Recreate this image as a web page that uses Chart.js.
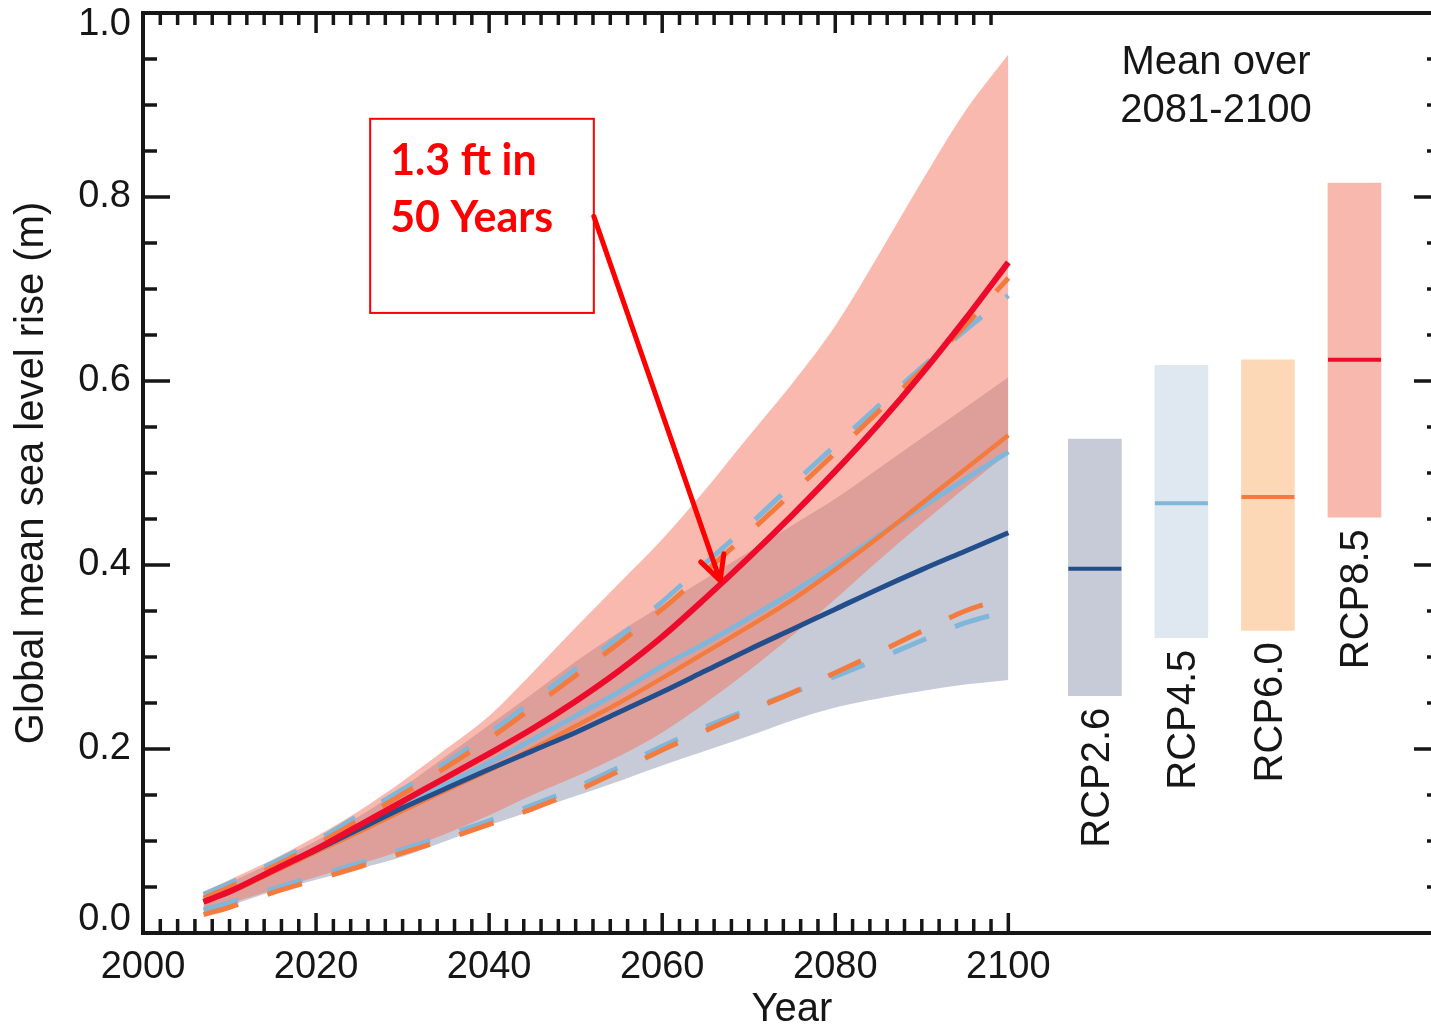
<!DOCTYPE html>
<html>
<head>
<meta charset="utf-8">
<title>Global mean sea level rise</title>
<script src="https://cdn.jsdelivr.net/npm/chart.js@4.4.0/dist/chart.umd.min.js"></script>
<style>
  html, body { margin: 0; padding: 0; background: #fff; overflow: hidden; }
  canvas { display: block; }
</style>
</head>
<body>
<canvas id="slrChart" width="1445" height="1029"></canvas>
<script>
// ---- values ----
const years = [2007, 2010, 2015, 2020, 2025, 2030, 2035, 2040, 2045, 2050,
               2055, 2060, 2065, 2070, 2075, 2080, 2085, 2090, 2095, 2100];

// central projections (solid lines)
const rcp26Mean = [0.034, 0.045, 0.068, 0.090, 0.113, 0.136, 0.157, 0.178, 0.198, 0.218,
                   0.240, 0.262, 0.285, 0.308, 0.330, 0.352, 0.374, 0.395, 0.415, 0.435];
const rcp45Mean = [0.034, 0.045, 0.068, 0.090, 0.115, 0.139, 0.162, 0.185, 0.210, 0.236,
                   0.262, 0.290, 0.315, 0.342, 0.370, 0.400, 0.432, 0.463, 0.493, 0.523];
const rcp60Mean = [0.034, 0.044, 0.066, 0.088, 0.110, 0.133, 0.155, 0.177, 0.200, 0.225,
                   0.250, 0.277, 0.305, 0.333, 0.362, 0.395, 0.430, 0.467, 0.504, 0.541];
const rcp85Mean = [0.034, 0.045, 0.068, 0.091, 0.117, 0.143, 0.169, 0.195, 0.222, 0.252,
                   0.285, 0.322, 0.364, 0.408, 0.454, 0.502, 0.553, 0.608, 0.667, 0.729];

// likely ranges (shaded)
const rcp26Upper = [0.043, 0.055, 0.077, 0.100, 0.127, 0.158, 0.192, 0.226, 0.260, 0.295,
                    0.327, 0.356, 0.385, 0.414, 0.443, 0.472, 0.505, 0.538, 0.571, 0.604];
const rcp26Lower = [0.022, 0.030, 0.045, 0.058, 0.070, 0.083, 0.100, 0.117, 0.133, 0.149,
                    0.165, 0.182, 0.198, 0.214, 0.231, 0.245, 0.255, 0.263, 0.270, 0.275];
const rcp85Upper = [0.045, 0.058, 0.080, 0.105, 0.133, 0.165, 0.200, 0.236, 0.283, 0.332,
                    0.380, 0.428, 0.482, 0.540, 0.597, 0.660, 0.737, 0.817, 0.893, 0.955];
const rcp85Lower = [0.024, 0.032, 0.047, 0.061, 0.075, 0.090, 0.108, 0.128, 0.150, 0.170,
                    0.192, 0.218, 0.250, 0.285, 0.323, 0.363, 0.405, 0.445, 0.484, 0.522];

// likely ranges (dashed)
const rcp45Upper = [0.042, 0.054, 0.076, 0.100, 0.128, 0.156, 0.185, 0.217, 0.252, 0.287,
                    0.322, 0.360, 0.402, 0.443, 0.487, 0.530, 0.573, 0.615, 0.655, 0.693];
const rcp60Upper = [0.038, 0.050, 0.072, 0.096, 0.123, 0.151, 0.180, 0.211, 0.245, 0.280,
                    0.315, 0.352, 0.393, 0.435, 0.478, 0.522, 0.567, 0.612, 0.660, 0.712];
const rcp45Lower = [0.025, 0.033, 0.048, 0.062, 0.076, 0.091, 0.106, 0.122, 0.139, 0.158,
                    0.180, 0.203, 0.224, 0.243, 0.261, 0.279, 0.298, 0.318, 0.337, 0.350];
const rcp60Lower = [0.020, 0.028, 0.044, 0.058, 0.072, 0.087, 0.102, 0.118, 0.135, 0.154,
                    0.176, 0.199, 0.220, 0.241, 0.261, 0.283, 0.305, 0.328, 0.350, 0.365];

// mean over 2081-2100 bars
const rcpNames   = ['RCP2.6', 'RCP4.5', 'RCP6.0', 'RCP8.5'];
const rcpBarX    = [2110, 2120, 2130, 2140];
const rcpBarLow  = [0.258, 0.321, 0.329, 0.452];
const rcpBarHigh = [0.537, 0.617, 0.623, 0.815];
const rcpBarMean = [0.396, 0.467, 0.474, 0.623];

// axes
const xTickLabels = [2000, 2020, 2040, 2060, 2080, 2100];
const yTickLabels = [0.0, 0.2, 0.4, 0.6, 0.8, 1.0];

// ---- styles ----
const ink = '#161616';
const font = '"Liberation Sans", Arial, Helvetica, sans-serif';
const cRed = '#ee0a2a', cNavy = '#224e8c', cSky = '#80b6d9', cOrange = '#f47b3e';
const barColors  = ['#c7cbd8', '#dfe7f0', '#fcd8b6', '#f9b8ad'];
const meanColors = [cNavy, cSky, cOrange, cRed];

const pts = arr => years.map((x, i) => ({ x: x, y: arr[i] }));

function meanLine(arr, color, width) {
  return { data: pts(arr), borderColor: color, borderWidth: width, pointRadius: 0,
           fill: false, cubicInterpolationMode: 'monotone' };
}
function dashLine(arr, color) {
  return { data: pts(arr), borderColor: color, borderWidth: 5, borderDash: [36, 31],
           pointRadius: 0, fill: false, cubicInterpolationMode: 'monotone' };
}
function bandEdge(arr, fillColor) {
  return { data: pts(arr), borderColor: 'rgba(0,0,0,0)', borderWidth: 0, pointRadius: 0,
           fill: fillColor ? '+1' : false, backgroundColor: fillColor || 'rgba(0,0,0,0)',
           cubicInterpolationMode: 'monotone' };
}

// inward ticks, frame and all text
const framePlugin = {
  id: 'frame',
  afterDraw(chart) {
    const ctx = chart.ctx, a = chart.chartArea;
    const x = chart.scales.x, y = chart.scales.y;
    ctx.save();

    ctx.strokeStyle = ink;
    ctx.lineWidth = 4;
    ctx.beginPath();
    ctx.rect(a.left, a.top, a.right - a.left, a.bottom - a.top);
    ctx.stroke();

    ctx.lineWidth = 3.5;
    ctx.beginPath();
    for (let yr = 2000; yr <= 2100; yr += 2) {
      const px = x.getPixelForValue(yr);
      const major = xTickLabels.includes(yr);
      ctx.moveTo(px, a.bottom); ctx.lineTo(px, a.bottom - (major ? 20 : 14));
      if (yr < 2100) { ctx.moveTo(px, a.top); ctx.lineTo(px, a.top + (major ? 20 : 12)); }
    }
    for (let k = 1; k < 20; k++) {
      const py = y.getPixelForValue(k * 0.05);
      const len = k % 4 === 0 ? 27 : 14;
      ctx.moveTo(a.left, py);  ctx.lineTo(a.left + len, py);
      ctx.moveTo(a.right, py); ctx.lineTo(a.right - len, py);
    }
    ctx.stroke();

    ctx.fillStyle = ink;
    ctx.font = '38px ' + font;
    ctx.textBaseline = 'middle';
    ctx.textAlign = 'center';
    xTickLabels.forEach(v => ctx.fillText(String(v), x.getPixelForValue(v), a.bottom + 35));

    ctx.textAlign = 'right';
    yTickLabels.forEach(v => {
      let py = y.getPixelForValue(v);
      py = Math.min(Math.max(py, a.top + 12), a.bottom - 13);
      ctx.fillText(v.toFixed(1), a.left - 12, py);
    });

    ctx.font = '40px ' + font;
    ctx.textAlign = 'center';
    ctx.fillText('Year', (a.left + a.right) / 2, a.bottom + 77);

    ctx.save();
    ctx.translate(a.left - 111, (a.top + a.bottom) / 2);
    ctx.rotate(-Math.PI / 2);
    ctx.fillText('Global mean sea level rise (m)', 0, 0);
    ctx.restore();

    ctx.fillText('Mean over', x.getPixelForValue(2124), y.getPixelForValue(0.946));
    ctx.fillText('2081-2100', x.getPixelForValue(2124), y.getPixelForValue(0.894));

    rcpNames.forEach((name, i) => {
      ctx.save();
      ctx.translate(x.getPixelForValue(rcpBarX[i]) + 3, y.getPixelForValue(rcpBarLow[i]) + 12);
      ctx.rotate(-Math.PI / 2);
      ctx.textAlign = 'right';
      ctx.fillText(name, 0, 0);
      ctx.restore();
    });

    // annotation box and arrow
    const bx0 = x.getPixelForValue(2026.25), bx1 = x.getPixelForValue(2052.1);
    const by0 = y.getPixelForValue(0.885),   by1 = y.getPixelForValue(0.674);
    ctx.fillStyle = '#ffffff';
    ctx.fillRect(bx0, by0, bx1 - bx0, by1 - by0);
    ctx.strokeStyle = '#ff0000';
    ctx.lineWidth = 2;
    ctx.strokeRect(bx0, by0, bx1 - bx0, by1 - by0);

    ctx.fillStyle = '#ff0000';
    ctx.font = 'bold 43px Lato, "Open Sans", sans-serif';
    ctx.textAlign = 'left';
    ctx.textBaseline = 'alphabetic';
    ctx.fillText('1.3 ft in', bx0 + 20, by0 + 56);
    ctx.fillText('50 Years', bx0 + 20, by0 + 113);

    const sx = bx1, sy = y.getPixelForValue(0.779);
    const tx = x.getPixelForValue(2066.7), ty = y.getPixelForValue(0.383);
    const ang = Math.atan2(ty - sy, tx - sx);
    ctx.lineWidth = 5;
    ctx.lineCap = 'round';
    ctx.lineJoin = 'round';
    ctx.beginPath();
    ctx.moveTo(sx, sy); ctx.lineTo(tx, ty);
    ctx.moveTo(tx - 27 * Math.cos(ang - 0.47), ty - 27 * Math.sin(ang - 0.47));
    ctx.lineTo(tx, ty);
    ctx.lineTo(tx - 27 * Math.cos(ang + 0.47), ty - 27 * Math.sin(ang + 0.47));
    ctx.stroke();

    ctx.restore();
  }
};

const ctx = document.getElementById('slrChart').getContext('2d');
const slrChart = new Chart(ctx, {
  type: 'line',
  data: {
    datasets: [
      meanLine(rcp85Mean, cRed, 6),
      meanLine(rcp26Mean, cNavy, 5),
      meanLine(rcp60Mean, cOrange, 4.5),
      meanLine(rcp45Mean, cSky, 5),
      dashLine(rcp60Upper, cOrange),
      dashLine(rcp45Upper, cSky),
      dashLine(rcp60Lower, cOrange),
      dashLine(rcp45Lower, cSky),
      bandEdge(rcp85Upper, 'rgba(245,115,93,0.5)'),
      bandEdge(rcp85Lower),
      bandEdge(rcp26Upper, '#c7cbd8'),
      bandEdge(rcp26Lower),
      {
        data: rcpBarX.map((x, i) => ({ x: x, y: rcpBarMean[i] })),
        showLine: false, pointStyle: 'line', pointRadius: 26.5,
        pointBorderWidth: 4, pointBorderColor: meanColors, borderColor: meanColors
      },
      {
        type: 'bar',
        data: rcpBarX.map((x, i) => ({ x: x, y: [rcpBarLow[i], rcpBarHigh[i]] })),
        backgroundColor: barColors, borderWidth: 0, barThickness: 53
      }
    ]
  },
  options: {
    responsive: false,
    animation: false,
    layout: { autoPadding: false, padding: { left: 143, right: 4, top: 13, bottom: 96 } },
    plugins: { legend: { display: false }, tooltip: { enabled: false } },
    scales: {
      x: { type: 'linear', min: 2000, max: 2150, display: false, offset: false },
      y: { type: 'linear', min: 0, max: 1, display: false }
    }
  },
  plugins: [framePlugin]
});
</script>
</body>
</html>
